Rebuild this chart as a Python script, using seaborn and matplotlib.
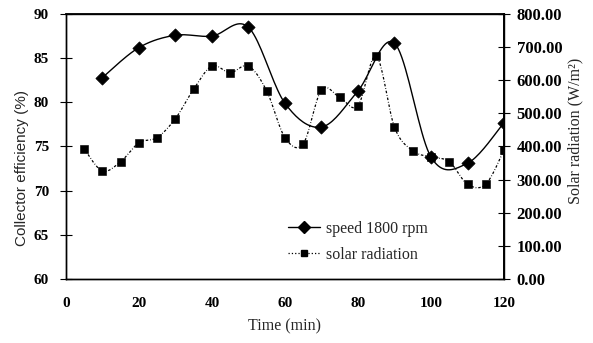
import numpy as np
import pandas as pd
import matplotlib
matplotlib.use("Agg")
import matplotlib.pyplot as plt
import seaborn as sns
from matplotlib.lines import Line2D

time_eff = [10, 20, 30, 40, 50, 60, 70, 80, 90, 100, 110, 120]
efficiency = [82.8, 86.2, 87.6, 87.5, 88.5, 79.9, 77.2, 81.3, 86.7, 73.8, 73.1, 77.7]

time_sol = [5, 10, 15, 20, 25, 30, 35, 40, 45, 50, 55, 60, 65, 70, 75, 80,
            85, 90, 95, 100, 105, 110, 115, 120]
solar = [393, 326, 354, 411, 427, 484, 573, 643, 623, 643, 568, 427, 408, 571,
         548, 523, 673, 458, 387, 368, 354, 286, 286, 389]

x_ticks = [0, 20, 40, 60, 80, 100, 120]
left_ticks = [60, 65, 70, 75, 80, 85, 90]
right_ticks = [0, 100, 200, 300, 400, 500, 600, 700, 800]

sns.set_theme(style="white")
plt.rcParams['font.family'] = ['Liberation Serif', 'DejaVu Serif']


def smooth(x, y, n=20):
    x = np.asarray(x, float)
    y = np.asarray(y, float)
    P = np.column_stack([x, y])
    P = np.vstack([P[0], P, P[-1]])
    out = []
    for i in range(1, len(P) - 2):
        p0, p1, p2, p3 = P[i - 1], P[i], P[i + 1], P[i + 2]
        t = np.linspace(0, 1, n, endpoint=False)[:, None]
        c1 = p1 + (p2 - p0) / 6
        c2 = p2 - (p3 - p1) / 6
        pts = ((1 - t) ** 3) * p1 + 3 * ((1 - t) ** 2) * t * c1 + 3 * (1 - t) * t ** 2 * c2 + t ** 3 * p2
        out.append(pts)
    out.append(P[-2][None, :])
    out = np.vstack(out)
    return out[:, 0], out[:, 1]


fig = plt.figure(figsize=(5.93, 3.43), dpi=100)
ax = fig.add_axes([0.111, 0.187, 0.739, 0.772])
ax2 = ax.twinx()

sx, sy = smooth(time_eff, efficiency)
ax.plot(sx, sy, color="black", lw=1.0, zorder=3)
sns.scatterplot(x=time_eff, y=efficiency, ax=ax, marker="D", s=45, color="black",
                edgecolor="black", zorder=4, legend=False)

rx, ry = smooth(time_sol, solar)
ax2.plot(rx, ry, color="black", lw=0.9, ls=(0, (2, 1.5, 0.6, 1.5)), zorder=2)
sns.scatterplot(x=time_sol, y=solar, ax=ax2, marker="s", s=28, color="black",
                edgecolor="black", zorder=3, legend=False)

ax.set_xlim(0, 120)
ax.set_ylim(60, 90)
ax2.set_ylim(0, 800)
ax.set_xticks(x_ticks)
ax.set_yticks(left_ticks)
ax2.set_yticks(right_ticks)
ax.set_xticklabels([str(v) for v in x_ticks], fontsize=11, fontweight="bold")
ax.set_yticklabels([str(v) for v in left_ticks], fontsize=11, fontweight="bold")
ax2.set_yticklabels([f"{v:.2f}" for v in right_ticks], fontsize=12, fontweight="bold")

ax.tick_params(axis="x", direction="in", length=4, width=0.8, pad=13, colors="black")
ax.tick_params(axis="y", direction="inout", length=8, width=0.8, pad=8, colors="black")
ax2.tick_params(axis="y", direction="inout", length=8, width=0.8, pad=5, colors="black")

for a in (ax, ax2):
    for s in a.spines.values():
        s.set_color("black")
        s.set_linewidth(1.0)
ax2.spines["right"].set_linewidth(1.4)
ax2.spines["top"].set_linewidth(1.3)

ax.set_xlabel("Time (min)", fontsize=11.5)
ax.xaxis.set_label_coords(0.5, -0.148)
ax.set_ylabel("Collector efficiency (%)", fontsize=11,
              family=['Liberation Sans', 'DejaVu Sans'])
ax.yaxis.set_label_coords(-0.085, 0.42)
ax2.set_ylabel("Solar radiation (W/m²)", fontsize=11.5)
ax2.yaxis.set_label_coords(1.144, 0.56)

handles = [
    Line2D([], [], color="black", lw=1.0, marker="D", markersize=6),
    Line2D([], [], color="black", lw=0.9, ls=":", marker="s", markersize=5),
]
ax.legend(handles, ["speed 1800 rpm", "solar radiation"], loc="lower left",
          bbox_to_anchor=(0.474, 0.007), frameon=False, fontsize=11.5,
          handlelength=2.0, handletextpad=0.4, labelspacing=0.6)

fig.savefig("out.png", dpi=100)
